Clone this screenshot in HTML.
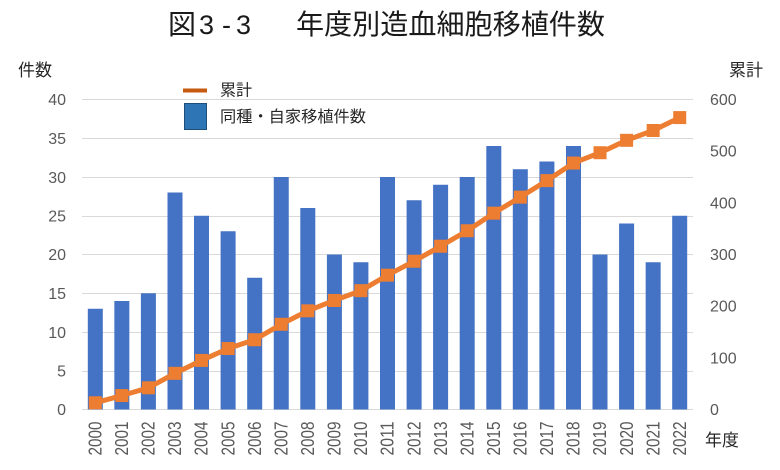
<!DOCTYPE html>
<html><head><meta charset="utf-8"><style>
html,body{margin:0;padding:0;background:#fff;}
svg{display:block;}
text{font-family:"Liberation Sans","Noto Sans CJK JP",sans-serif;}
.cj{font-family:"Noto Sans CJK JP","Liberation Sans",sans-serif;}
</style></head><body>
<svg width="780" height="470" viewBox="0 0 780 470" xmlns="http://www.w3.org/2000/svg">
<rect width="780" height="470" fill="#fff"/>
<!-- title -->
<g fill="#1a1a1a">
<text class="cj" x="168" y="34" font-size="28">図</text>
<text x="199" y="34" font-size="27">3</text>
<text x="222" y="34" font-size="27">-</text>
<text x="236" y="34" font-size="27">3</text>
<text class="cj" x="296" y="34" font-size="28" textLength="309" lengthAdjust="spacingAndGlyphs">年度別造血細胞移植件数</text>
</g>
<!-- gridlines -->
<g stroke="#D9D9D9" stroke-width="1">
<line x1="82" x2="693" y1="99.5" y2="99.5"/>
<line x1="82" x2="693" y1="138.5" y2="138.5"/>
<line x1="82" x2="693" y1="177.5" y2="177.5"/>
<line x1="82" x2="693" y1="216.5" y2="216.5"/>
<line x1="82" x2="693" y1="254.5" y2="254.5"/>
<line x1="82" x2="693" y1="293.5" y2="293.5"/>
<line x1="82" x2="693" y1="332.5" y2="332.5"/>
<line x1="82" x2="693" y1="371.5" y2="371.5"/>
<line x1="82" x2="693" y1="409.5" y2="409.5"/>
</g>
<!-- bars -->
<g fill="#4472C4">
<rect x="87.8" y="308.75" width="15" height="100.75"/>
<rect x="114.35" y="301" width="15" height="108.5"/>
<rect x="140.9" y="293.25" width="15" height="116.25"/>
<rect x="167.5" y="192.5" width="15" height="217"/>
<rect x="194" y="215.75" width="15" height="193.75"/>
<rect x="220.6" y="231.25" width="15" height="178.25"/>
<rect x="247.2" y="277.75" width="15" height="131.75"/>
<rect x="273.75" y="177" width="15" height="232.5"/>
<rect x="300.3" y="208" width="15" height="201.5"/>
<rect x="326.9" y="254.5" width="15" height="155"/>
<rect x="353.4" y="262.25" width="15" height="147.25"/>
<rect x="380" y="177" width="15" height="232.5"/>
<rect x="406.6" y="200.25" width="15" height="209.25"/>
<rect x="433.1" y="184.75" width="15" height="224.75"/>
<rect x="459.7" y="177" width="15" height="232.5"/>
<rect x="486.3" y="146" width="15" height="263.5"/>
<rect x="512.8" y="169.25" width="15" height="240.25"/>
<rect x="539.4" y="161.5" width="15" height="248"/>
<rect x="566" y="146" width="15" height="263.5"/>
<rect x="592.5" y="254.5" width="15" height="155"/>
<rect x="619.1" y="223.5" width="15" height="186"/>
<rect x="645.65" y="262.25" width="15" height="147.25"/>
<rect x="672.2" y="215.75" width="15" height="193.75"/>
</g>
<!-- cumulative line -->
<polyline fill="none" stroke="#ED7D31" stroke-width="5" stroke-linejoin="round" points="95.28,402.78 121.85,395.55 148.41,387.8 174.98,373.33 201.54,360.42 228.11,348.53 254.67,339.75 281.24,324.25 307.8,310.82 334.37,300.48 360.93,290.67 387.5,275.17 414.07,261.22 440.63,246.23 467.2,230.73 493.76,213.17 520.33,197.15 546.89,180.62 573.46,163.05 600.02,152.72 626.59,140.32 653.15,130.5 679.72,117.58"/>
<g fill="#ED7D31">
<rect x="88.78" y="396.28" width="13" height="13"/>
<rect x="115.35" y="389.05" width="13" height="13"/>
<rect x="141.91" y="381.3" width="13" height="13"/>
<rect x="168.48" y="366.83" width="13" height="13"/>
<rect x="195.04" y="353.92" width="13" height="13"/>
<rect x="221.61" y="342.03" width="13" height="13"/>
<rect x="248.17" y="333.25" width="13" height="13"/>
<rect x="274.74" y="317.75" width="13" height="13"/>
<rect x="301.3" y="304.32" width="13" height="13"/>
<rect x="327.87" y="293.98" width="13" height="13"/>
<rect x="354.43" y="284.17" width="13" height="13"/>
<rect x="381" y="268.67" width="13" height="13"/>
<rect x="407.57" y="254.72" width="13" height="13"/>
<rect x="434.13" y="239.73" width="13" height="13"/>
<rect x="460.7" y="224.23" width="13" height="13"/>
<rect x="487.26" y="206.67" width="13" height="13"/>
<rect x="513.83" y="190.65" width="13" height="13"/>
<rect x="540.39" y="174.12" width="13" height="13"/>
<rect x="566.96" y="156.55" width="13" height="13"/>
<rect x="593.52" y="146.22" width="13" height="13"/>
<rect x="620.09" y="133.82" width="13" height="13"/>
<rect x="646.65" y="124" width="13" height="13"/>
<rect x="673.22" y="111.08" width="13" height="13"/>
</g>
<!-- left axis labels -->
<g fill="#595959" font-size="16" text-anchor="end">
<text x="66" y="105">40</text>
<text x="66" y="144">35</text>
<text x="66" y="183">30</text>
<text x="66" y="221.5">25</text>
<text x="66" y="260">20</text>
<text x="66" y="299">15</text>
<text x="66" y="338">10</text>
<text x="66" y="376.5">5</text>
<text x="66" y="415">0</text>
</g>
<!-- right axis labels -->
<g fill="#595959" font-size="16" text-anchor="start">
<text x="710" y="105">600</text>
<text x="710" y="156.7">500</text>
<text x="710" y="208.3">400</text>
<text x="710" y="260">300</text>
<text x="710" y="311.7">200</text>
<text x="710" y="363.3">100</text>
<text x="710" y="415">0</text>
</g>
<!-- x labels -->
<g fill="#595959" font-size="18" text-anchor="end">
<text transform="translate(101.5,421.5) rotate(-90)" textLength="34" lengthAdjust="spacingAndGlyphs">2000</text>
<text transform="translate(128.1,421.5) rotate(-90)" textLength="34" lengthAdjust="spacingAndGlyphs">2001</text>
<text transform="translate(154.6,421.5) rotate(-90)" textLength="34" lengthAdjust="spacingAndGlyphs">2002</text>
<text transform="translate(181.2,421.5) rotate(-90)" textLength="34" lengthAdjust="spacingAndGlyphs">2003</text>
<text transform="translate(207.7,421.5) rotate(-90)" textLength="34" lengthAdjust="spacingAndGlyphs">2004</text>
<text transform="translate(234.3,421.5) rotate(-90)" textLength="34" lengthAdjust="spacingAndGlyphs">2005</text>
<text transform="translate(260.9,421.5) rotate(-90)" textLength="34" lengthAdjust="spacingAndGlyphs">2006</text>
<text transform="translate(287.4,421.5) rotate(-90)" textLength="34" lengthAdjust="spacingAndGlyphs">2007</text>
<text transform="translate(314,421.5) rotate(-90)" textLength="34" lengthAdjust="spacingAndGlyphs">2008</text>
<text transform="translate(340.6,421.5) rotate(-90)" textLength="34" lengthAdjust="spacingAndGlyphs">2009</text>
<text transform="translate(367.1,421.5) rotate(-90)" textLength="34" lengthAdjust="spacingAndGlyphs">2010</text>
<text transform="translate(393.7,421.5) rotate(-90)" textLength="34" lengthAdjust="spacingAndGlyphs">2011</text>
<text transform="translate(420.3,421.5) rotate(-90)" textLength="34" lengthAdjust="spacingAndGlyphs">2012</text>
<text transform="translate(446.8,421.5) rotate(-90)" textLength="34" lengthAdjust="spacingAndGlyphs">2013</text>
<text transform="translate(473.4,421.5) rotate(-90)" textLength="34" lengthAdjust="spacingAndGlyphs">2014</text>
<text transform="translate(500,421.5) rotate(-90)" textLength="34" lengthAdjust="spacingAndGlyphs">2015</text>
<text transform="translate(526.5,421.5) rotate(-90)" textLength="34" lengthAdjust="spacingAndGlyphs">2016</text>
<text transform="translate(553.1,421.5) rotate(-90)" textLength="34" lengthAdjust="spacingAndGlyphs">2017</text>
<text transform="translate(579.7,421.5) rotate(-90)" textLength="34" lengthAdjust="spacingAndGlyphs">2018</text>
<text transform="translate(606.2,421.5) rotate(-90)" textLength="34" lengthAdjust="spacingAndGlyphs">2019</text>
<text transform="translate(632.8,421.5) rotate(-90)" textLength="34" lengthAdjust="spacingAndGlyphs">2020</text>
<text transform="translate(659.4,421.5) rotate(-90)" textLength="34" lengthAdjust="spacingAndGlyphs">2021</text>
<text transform="translate(685.9,421.5) rotate(-90)" textLength="34" lengthAdjust="spacingAndGlyphs">2022</text>
</g>
<!-- axis titles -->
<g fill="#262626" font-size="17" class="cj">
<text class="cj" x="18" y="76">件数</text>
<text class="cj" x="729" y="76">累計</text>
<text class="cj" x="705" y="446">年度</text>
</g>
<!-- legend -->
<line x1="183" x2="207" y1="90.5" y2="90.5" stroke="#C55A11" stroke-width="4"/>
<text class="cj" x="220" y="95.5" font-size="16" fill="#262626">累計</text>
<rect x="184.5" y="103.5" width="22" height="26" fill="#2E75B6" stroke="#1F4E79" stroke-width="1"/>
<text class="cj" x="220" y="122" font-size="16" fill="#262626" textLength="146" lengthAdjust="spacingAndGlyphs">同種・自家移植件数</text>
</svg>
</body></html>
